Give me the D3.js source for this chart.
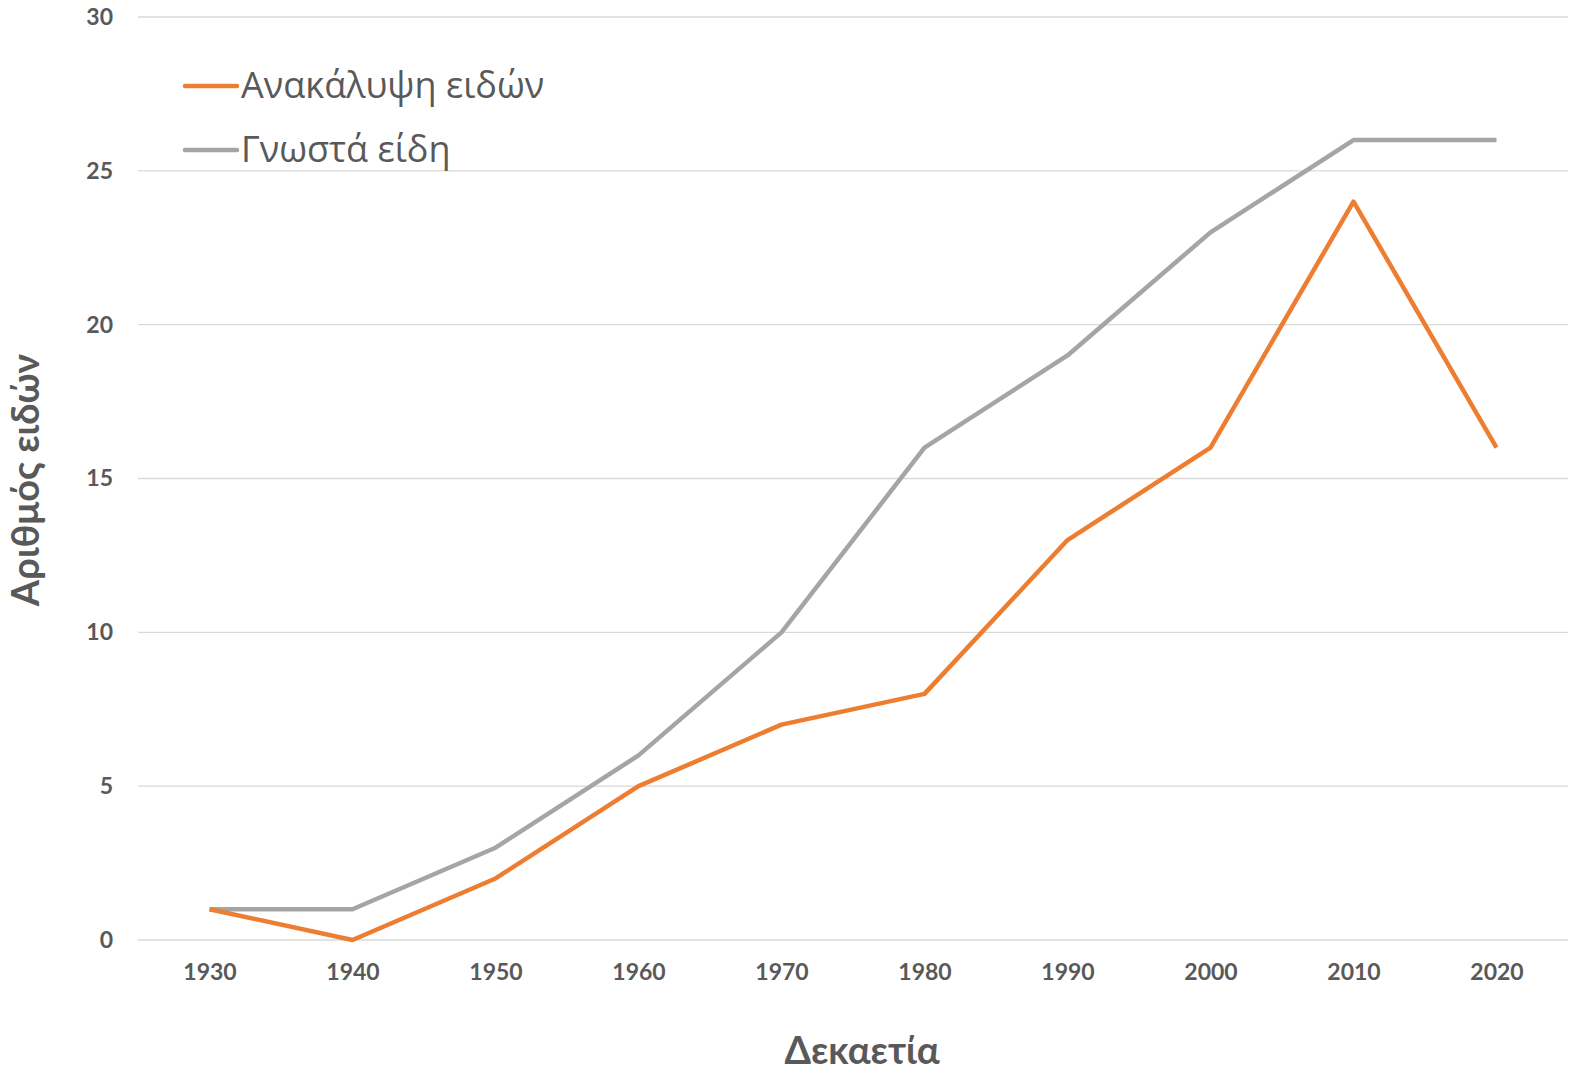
<!DOCTYPE html>
<html><head><meta charset="utf-8">
<script src="https://cdn.jsdelivr.net/npm/d3@7"></script>
<style>html,body{margin:0;padding:0;background:#fff;overflow:hidden}svg{display:block}</style>
</head><body>
<svg id="c" width="1585" height="1081"></svg>
<script>
const categories = ["1930","1940","1950","1960","1970","1980","1990","2000","2010","2020"];
const discovery = [1,0,2,5,7,8,13,16,24,16];
const known = [1,1,3,6,10,16,19,23,26,26];
const yTicks = [0,5,10,15,20,25,30];
const seriesNames = ["Ανακάλυψη ειδών","Γνωστά είδη"];
const colors = ["#ED7D31","#A5A5A5"];

const svg = d3.select("#c");
const L=138, R=1568, T=17, B=940;
const x = d3.scalePoint().domain(categories).range([L,R]).padding(0.5);
const y = d3.scaleLinear().domain([0,30]).range([B,T]);

svg.append("g").selectAll("line").data(yTicks).join("line")
  .attr("x1",L).attr("x2",R).attr("y1",d=>y(d)).attr("y2",d=>y(d))
  .attr("stroke","#d9d9d9").attr("stroke-width",1.3);

const yAxis = svg.append("g").attr("transform",`translate(${L},0)`)
  .call(d3.axisLeft(y).tickValues(yTicks).tickSize(0).tickPadding(25));
yAxis.select(".domain").remove();
yAxis.selectAll("text").attr("font-family","Lato, sans-serif").attr("font-weight","bold")
  .attr("font-size",23).attr("fill","#595959");

const xAxis = svg.append("g").attr("transform",`translate(0,${B})`)
  .call(d3.axisBottom(x).tickSize(0).tickPadding(24));
xAxis.select(".domain").remove();
xAxis.selectAll("text").attr("font-family","Lato, sans-serif").attr("font-weight","bold")
  .attr("font-size",23).attr("fill","#595959");

const line = d3.line().x((d,i)=>x(categories[i])).y(d=>y(d));
[[known,1],[discovery,0]].forEach(([s,ci])=>{
  svg.append("path").attr("d",line(s)).attr("fill","none")
    .attr("stroke",colors[ci]).attr("stroke-width",4.5).attr("stroke-linejoin","round");
});

seriesNames.forEach((n,i)=>{
  const yy = 86 + i*64;
  svg.append("line").attr("x1",185).attr("x2",237).attr("y1",yy).attr("y2",yy)
    .attr("stroke",colors[i]).attr("stroke-width",4.5).attr("stroke-linecap","round");
  svg.append("text").attr("x",241).attr("y",yy+12).text(n)
    .attr("font-family","'Open Sans', sans-serif").attr("font-size",36).attr("fill","#595959");
});

svg.append("text").attr("x",862).attr("y",1064).attr("text-anchor","middle").text("Δεκαετία")
  .attr("font-family","Lato, sans-serif").attr("font-weight","bold").attr("font-size",38).attr("fill","#595959");
svg.append("text").attr("transform","translate(39,480) rotate(-90)").attr("text-anchor","middle").text("Αριθμός ειδών")
  .attr("font-family","Lato, sans-serif").attr("font-weight","bold").attr("font-size",38).attr("fill","#595959");
</script>
</body></html>
